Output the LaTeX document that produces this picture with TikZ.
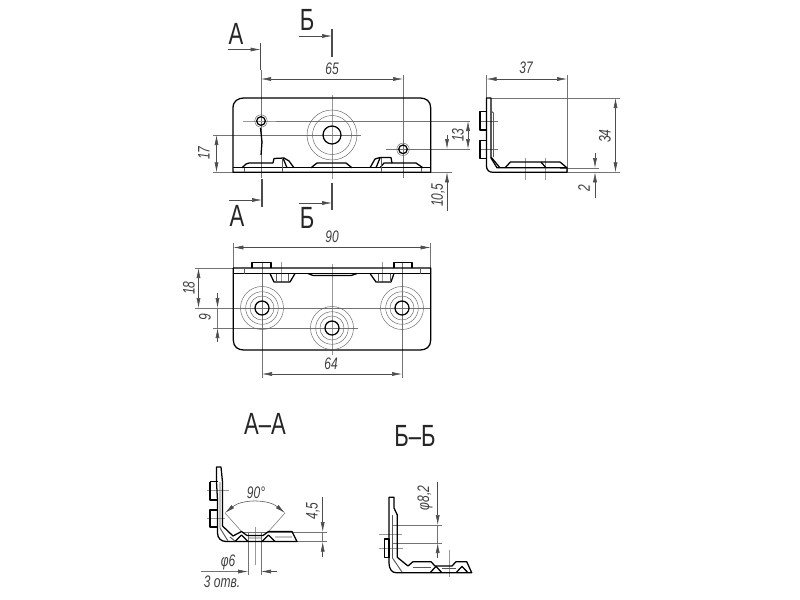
\documentclass[tikz,border=0pt]{standalone}
\usepackage{fontspec}
\usepackage{graphicx}
\setmainfont{Liberation Sans}
\usetikzlibrary{arrows.meta}
\tikzset{
 main/.style={line width=0.95pt,black,line join=round},
 thin2/.style={line width=0.45pt,black!65},
 ext/.style={line width=0.4pt,black!55},
 cen/.style={line width=0.4pt,black!40},
 ring/.style={line width=0.35pt,black!60},
 cut/.style={line width=1.4pt,black!70},
 arr/.style={line width=0.4pt,black!70,-{Latex[length=7.5pt,width=3pt]}},
 arrb/.style={line width=0.4pt,black!70,{Latex[length=7.5pt,width=3pt]}-{Latex[length=7.5pt,width=3pt]}},
 dimt/.style={font=\fontsize{12.5}{13}\selectfont\itshape,text=black!75,inner sep=0pt},
 sect/.style={font=\fontsize{23}{24}\selectfont,text=black!85,inner sep=0pt},
}
\newcommand\sq[1]{\scalebox{0.72}[1]{#1}}
\begin{document}
\begin{tikzpicture}[x=0.75pt,y=-0.75pt]
\useasboundingbox (0,0) rectangle (800,600);
\fill[white] (0,0) rectangle (800,600);

% ---------- section marks
\foreach \x/\a/\b/\ya/\xa in {260.5/43/70/49.5/228, 332/29/57/36/299, 262/179/207/200/229, 332/183/210/203/299}{
  \draw[cut] (\x,\a) -- (\x,\b);
  \draw[arr] (\xa,\ya) -- (\x,\ya);
}
\node[sect] (ma1) at (236,34) {\sq{А}};
\node[sect] (mb1) at (307,20) {\sq{Б}};
\node[sect] (ma2) at (237,216) {\sq{А}};
\node[sect] (mb2) at (307,218) {\sq{Б}};

% ---------- front view: thin lines
\draw[ext] (261,70) -- (261,178);
\draw[ext] (403,75) -- (403,178);
\draw[cen] (332,95) -- (332,179);
\draw[cen] (243,121) -- (276,121);
\draw[ext] (276,121) -- (470,121);
\draw[ext] (386,149) -- (470,149);
\draw[ext] (213,135) -- (361,135);
\draw[ext] (213,172.3) -- (452,172.3);
\draw[arrb] (261,79) -- (403,79);
\node[dimt] (d65) at (332,69) {\sq{65}};
\draw[arrb] (216.5,135) -- (216.5,172.3);
\node[dimt,rotate=90] (d17) at (204,153) {\sq{17}};
\draw[arrb] (468,121) -- (468,149);
\node[dimt,rotate=90] (d13) at (458,135) {\sq{13}};
\draw[arr] (447,135) -- (447,149);
\draw[arr] (447,211) -- (447,172.3);
\node[dimt,rotate=90] (d105) at (438,195) {\sq{10,5}};

% front view: outline
\draw[main] (233,172.3) -- (233,108) .. controls (233,101) and (238,98) .. (244,98) -- (420,98) .. controls (426,98) and (430.7,101) .. (430.7,108) -- (430.7,172.3) -- cycle;
\draw[main] (233,167.8) -- (430.7,167.8);
\draw[thin2] (244,167.8) -- (244,172.3) (421,167.8) -- (421,172.3);
% bumps
\draw[main] (242,167.8) -- (246,164) -- (249,163) -- (273,163) -- (274,158.5) -- (284,158) -- (289,161) -- (294,167.8);
\draw[main] (283,158) -- (287,167.8);
\draw[main] (311,167.8) -- (317,163) -- (346,163) -- (352,167.8);
\draw[main] (370,167.8) -- (375,159) -- (380,157.5) -- (391,157.5) -- (392,163) -- (416,163) -- (423,167.8);
\draw[main] (380,158) -- (376,167.8);
\draw[main] (380,167.8) -- (384,163) -- (392,163);
\draw[thin2] (282,158) -- (282,172) (381,158) -- (381,172);
\draw[main] (260.5,128) -- (262,142) -- (261,155);
% holes
\draw[main] (261,121) circle (4.3);
\draw[ring] (261,121) circle (6.2);
\draw[main] (403,149.3) circle (4.3);
\draw[ring] (403,149.3) circle (6.2);
\draw[main] (332,135) circle (9);
\draw[ring] (332,135) circle (19.5);
\draw[ring] (332,135) circle (25);

% ---------- right view
\draw[ext] (486.5,75) -- (486.5,98);
\draw[ext] (567,75) -- (567,172.3);
\draw[ext] (491,98) -- (620,98);
\draw[ext] (567,172.3) -- (620,172.3);
\draw[ext] (560,168) -- (599,168);
\draw[ext] (480,121) -- (498,121) (480,149) -- (498,149);
\draw[cen] (525,158) -- (525,180) (545,158) -- (545,180);
\draw[arrb] (486.5,79) -- (567,79);
\node[dimt] (d37) at (526,68) {\sq{37}};
\draw[arrb] (615.5,98) -- (615.5,172.3);
\node[dimt,rotate=90] (d34) at (605,136) {\sq{34}};
\draw[arr] (595,153) -- (595,168);
\draw[arr] (595,198) -- (595,172.3);
\node[dimt,rotate=90] (d2) at (584,188) {\sq{2}};
\draw[main] (486.5,98) -- (491,98) -- (491,158) -- (497,167.8) -- (567,167.8) -- (567,172.3) -- (493,172.3) .. controls (489,172.3) and (486.5,170) .. (486.5,166) -- cycle;
\draw[main] (480,111.7) rectangle (486.5,130);
\draw[main] (480,140.7) rectangle (486.5,158.7);
\draw[thin2,line width=0.7pt] (491,111) -- (493.5,113) -- (493.5,157);
\draw[main] (491,157) -- (500,167.8);
\draw[main] (505,167.8) -- (510.5,162) -- (560,162) -- (567,167.8);
\draw[main] (541,162) -- (546,167.8);

% ---------- bottom view
\draw[ext] (233.3,243) -- (233.3,268) (430.7,243) -- (430.7,268);
\draw[ext] (262,262) -- (262,378) (402,262) -- (402,378);
\draw[cen] (332,264) -- (332,355);
\draw[cen] (281,262) -- (281,282) (382,262) -- (382,282);
\draw[ext] (195,268) -- (233.3,268);
\draw[ext] (195,308) -- (430,308);
\draw[ext] (213,328) -- (358,328);
\draw[arrb] (233.3,247.5) -- (430.7,247.5);
\node[dimt] (d90) at (332,237) {\sq{90}};
\draw[arrb] (198.5,268) -- (198.5,308);
\node[dimt,rotate=90] (d18) at (189,288) {\sq{18}};
\draw[arr] (217.5,293) -- (217.5,308);
\draw[arr] (217.5,342) -- (217.5,328);
\draw[ext] (217.5,308) -- (217.5,328);
\node[dimt,rotate=90] (d9) at (205,317) {\sq{9}};
\draw[arrb] (262,374) -- (402,374);
\node[dimt] (d64) at (331,364) {\sq{64}};
\draw[main] (233.3,268) -- (233.3,340) .. controls (233.3,347) and (238,350) .. (244,350) -- (420,350) .. controls (426,350) and (430.7,347) .. (430.7,340) -- (430.7,268) -- cycle;
\draw[main] (233.3,273.5) -- (430.7,273.5);
\draw[thin2] (244,268) -- (244,273.5) (420,268) -- (420,273.5);
\draw[main] (252,268) -- (252,262.5) -- (271,262.5) -- (271,268);
\draw[main] (394,268) -- (394,262.5) -- (412,262.5) -- (412,268);
\draw[main] (270,273.5) -- (274,282) -- (290,282) -- (295,273.5);
\draw[thin2] (276,273.5) -- (276,282) (288,273.5) -- (288,282);
\draw[main] (370,273.5) -- (376,282) -- (391,282) -- (394,273.5);
\draw[thin2] (378,273.5) -- (378,282) (390,273.5) -- (390,282);
\draw[main] (308,273.5) -- (313,275.5) -- (351,275.5) -- (357,273.5);
\foreach \cx/\cy in {262/308,332/328,402/308}{
  \draw[main] (\cx,\cy) circle (7);
  \draw[ring] (\cx,\cy) circle (12);
  \draw[ring] (\cx,\cy) circle (16.3);
  \draw[ring] (\cx,\cy) circle (21.5);
}

% ---------- section titles
\node[sect] (ta) at (265,424) {\sq{А–А}};
\node[sect] (tb) at (415,436) {\sq{Б–Б}};

% ---------- section A-A
\draw[cen] (207,490.7) -- (229,490.7) (207,518) -- (225,518);
\draw[cen] (255.5,527) -- (255.5,565);
\draw[ext] (248,532) -- (248,575) (261,532) -- (261,575);
\draw[ext] (243,532) -- (327,532) (297,541.7) -- (327,541.7);
\draw[ext] (225,513) -- (242,532) (285,513) -- (268,532);
\draw[arrb] (225,513) .. controls (242,499) and (268,499) .. (285,513);
\node[dimt] (d90d) at (256,493) {\sq{90°}};
\draw[ext] (200.7,571.5) -- (238,571.5);
\draw[arr] (238,571.5) -- (248,571.5);
\draw[arr] (276.7,571.5) -- (261,571.5);
\node[dimt] (dphi6) at (228,562) {\sq{φ6}};
\node[dimt] (dotv) at (222,582) {\sq{3 отв.}};
\draw[arr] (322.7,497) -- (322.7,532);
\draw[arr] (322.7,557) -- (322.7,541.7);
\draw[ext] (322.7,532) -- (322.7,541.7);
\node[dimt,rotate=90] (d45) at (313,511) {\sq{4,5}};
\draw[main] (216.5,467) -- (221,467) -- (222.5,482) -- (222.5,526) -- (233,536) -- (241.5,531.5) -- (247,535.5) -- (263,535.5) -- (268.5,531.5) -- (292,531.5) -- (297,541.5) -- (226,541.5) .. controls (221,541.5) and (217.5,538) .. (217.5,533) -- (217.5,500) -- (216.5,482) -- cycle;
\draw[main] (210,481.7) -- (217.5,481.7) (210,481.7) -- (210,500) -- (217.5,500);
\draw[main] (210,510) rectangle (217.5,527);
\draw[thin2,line width=0.7pt] (220,482) -- (220,528) -- (228,541);
\draw[main] (235,541.5) -- (241.5,535) -- (248,541.5);
\draw[main] (262,541.5) -- (268.5,535) -- (275,541.5);
\draw[thin2,line width=0.7pt] (230,537) -- (235,541) (248,538) -- (262,538) (275,537) -- (292,537);

% ---------- section B-B
\draw[cen] (379,534) -- (401.7,534) (379,548) -- (403,548);
\draw[cen] (449.7,550) -- (449.7,577);
\draw[ext] (392,525) -- (441.7,525) (392,543) -- (441.7,543);
\draw[arr] (437.7,481.7) -- (437.7,525);
\draw[arr] (437.7,558) -- (437.7,543);
\draw[ext] (437.7,525) -- (437.7,543);
\node[dimt,rotate=90] (d82) at (425,498) {\sq{φ8,2}};
\draw[main] (389,497.3) -- (394,497.3) -- (394,508) -- (397.3,515) -- (397.3,557.3) -- (408,566) -- (413,561.7) -- (431,561.7) -- (435,566) -- (452,566) -- (456,561.7) -- (466.7,561.7) -- (471.7,572.7) -- (396,572.7) .. controls (392,572.7) and (389,569) .. (389,563) -- cycle;
\draw[main] (384.3,539) rectangle (389,557.3);
\draw[thin2,line width=0.7pt] (392.5,515) -- (392.5,558) -- (402,572);
\draw[main] (430,572.7) -- (436,566.5) -- (442,572.7);
\draw[main] (456,572.7) -- (462,566.5) -- (468,572.7);
\draw[thin2,line width=0.7pt] (413,567) -- (431,567) (442,568) -- (456,568);
\end{tikzpicture}
\end{document}
